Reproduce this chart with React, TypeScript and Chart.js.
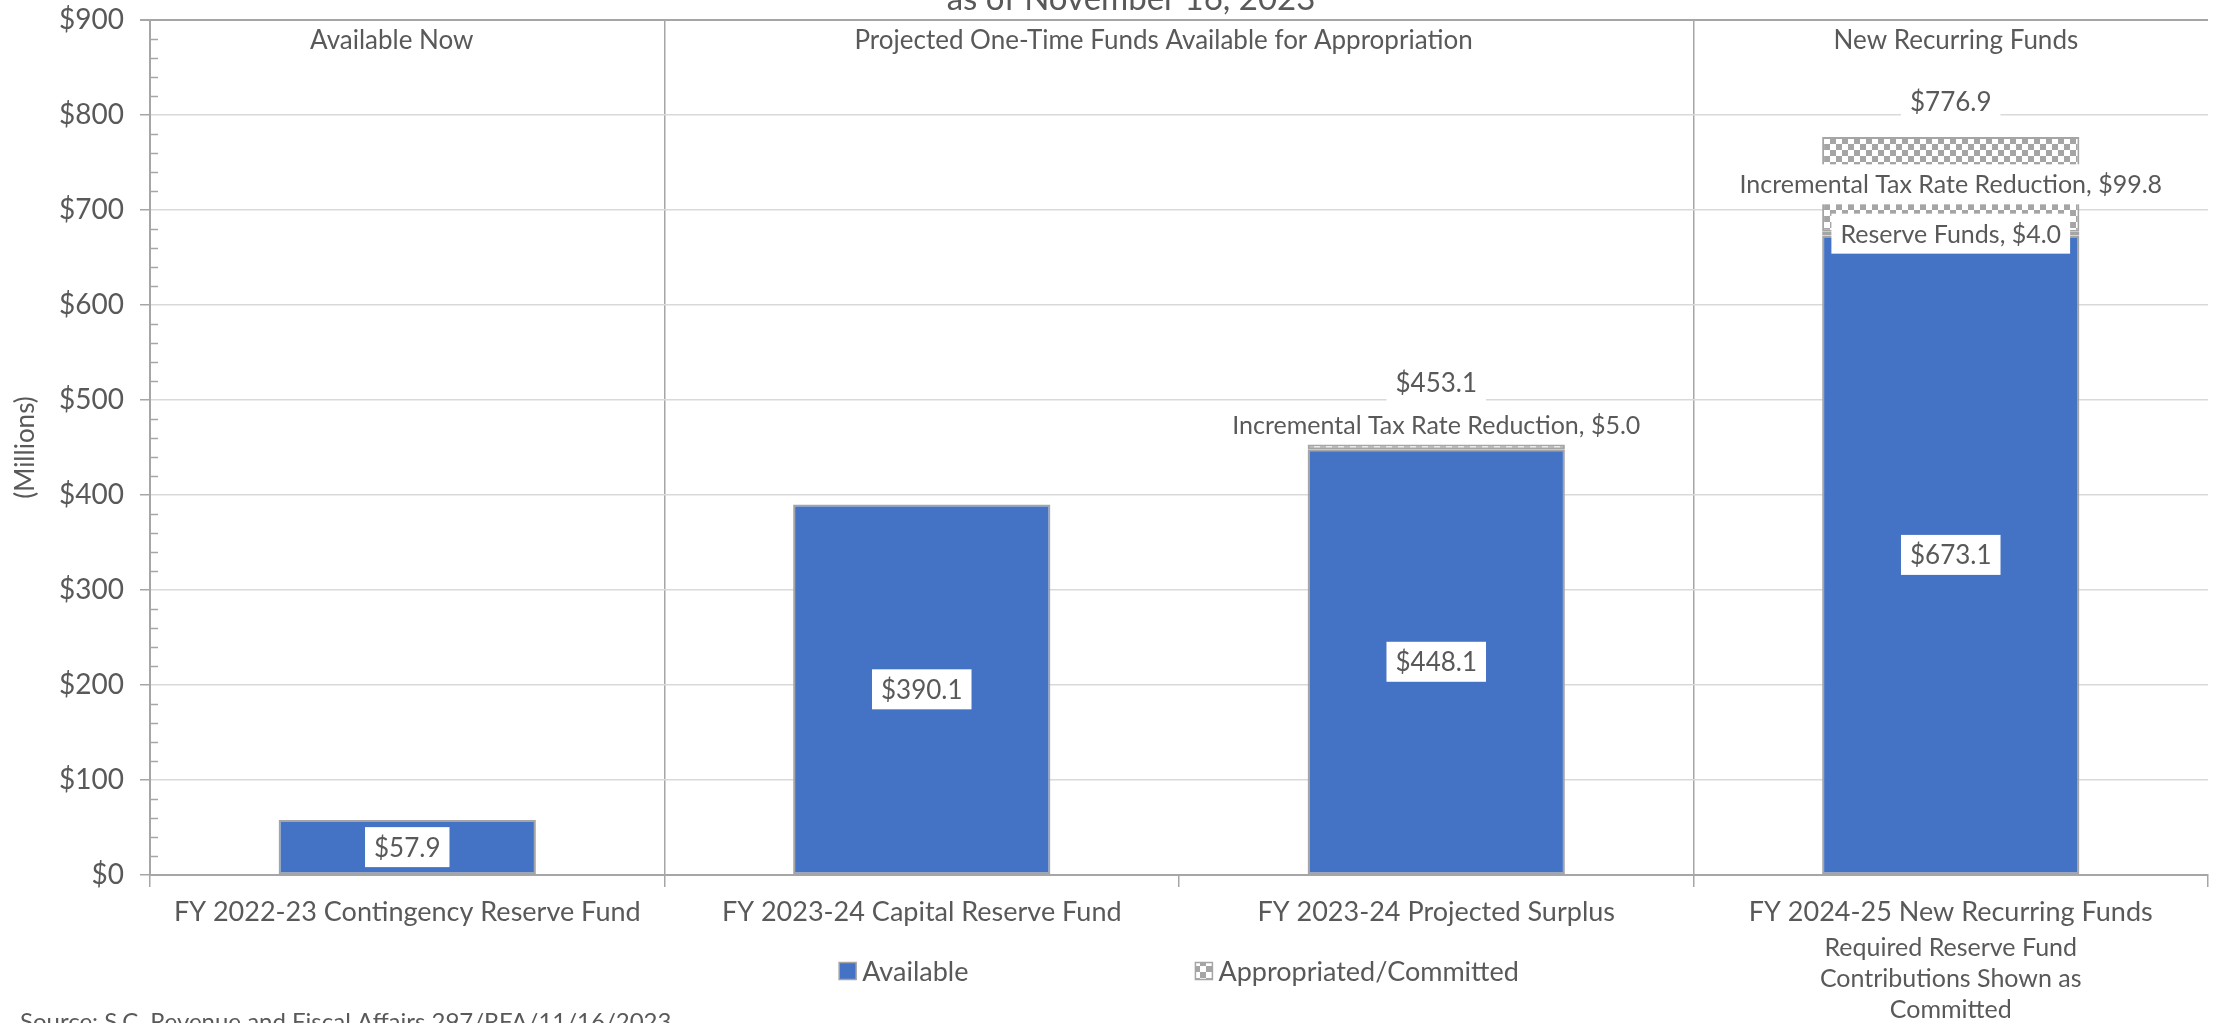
import React, { useEffect, useRef } from 'react';
import { Chart, registerables } from 'chart.js';

Chart.register(...registerables);

// ---------------- data ----------------
const categories = [
  'FY 2022-23 Contingency Reserve Fund',
  'FY 2023-24 Capital Reserve Fund',
  'FY 2023-24 Projected Surplus',
  'FY 2024-25 New Recurring Funds',
];
const availableValues = [57.9, 390.1, 448.1, 673.1];
const reserveFundValues: (number | null)[] = [null, null, null, 4.0];
const taxReductionValues: (number | null)[] = [null, null, 5.0, 99.8];
const seriesNames = ['Available', 'Reserve Funds', 'Incremental Tax Rate Reduction'];
const legendNames = ['Available', 'Appropriated/Committed'];
const yMin = 0;
const yMax = 900;
const yStep = 100;
const yMinorStep = 20;
const groupHeaders = [
  'Available Now',
  'Projected One-Time Funds Available for Appropriation',
  'New Recurring Funds',
];
const noteLines = ['Required Reserve Fund', 'Contributions Shown as', 'Committed'];
const titleText = 'as of November 16, 2023';
const yAxisTitle = '(Millions)';
const sourceText = 'Source: S.C. Revenue and Fiscal Affairs 297/RFA/11/16/2023';

// ---------------- style / layout ----------------
const W = 2213;
const H = 1023;
const FAMILY = 'Lato, "Noto Sans", sans-serif';
const TEXT = '#595959';
const BLUE = '#4472C4';
const EDGE = '#A5A5A5';
const AXIS = '#A6A6A6';
const GRID = '#D9D9D9';
const HEADER_POS = [-0.03, 1.47, 3.01]; // in category units
const fmt = (v: number) => '$' + v.toFixed(1);

function makePattern(ctx: CanvasRenderingContext2D) {
  const s = 6;
  const c = document.createElement('canvas');
  c.width = s * 2;
  c.height = s * 2;
  const g = c.getContext('2d')!;
  g.fillStyle = '#ffffff';
  g.fillRect(0, 0, s * 2, s * 2);
  g.fillStyle = '#A5A5A5';
  g.fillRect(0, 0, s, s);
  g.fillRect(s, s, s, s);
  return ctx.createPattern(c, 'repeat')!;
}

function label(
  ctx: CanvasRenderingContext2D,
  text: string,
  cx: number,
  cy: number,
  size: number,
  boxed: boolean
) {
  ctx.font = `${size}px ${FAMILY}`;
  const w = ctx.measureText(text).width;
  if (boxed) {
    ctx.fillStyle = '#ffffff';
    ctx.fillRect(cx - w / 2 - 9, cy - 20, w + 18, 40);
  }
  ctx.fillStyle = TEXT;
  ctx.textAlign = 'center';
  ctx.textBaseline = 'middle';
  ctx.fillText(text, cx, cy + 1);
}

export default function App() {
  const ref = useRef<HTMLCanvasElement>(null);

  useEffect(() => {
    const canvas = ref.current!;
    const ctx0 = canvas.getContext('2d')!;
    const pattern = makePattern(ctx0);
    const series = [availableValues, reserveFundValues, taxReductionValues];

    const annotate = {
      id: 'annotate',
      afterDraw(chart: any) {
        const ctx: CanvasRenderingContext2D = chart.ctx;
        const ca = chart.chartArea;
        const xs = chart.scales.x;
        const ys = chart.scales.y;
        ctx.save();

        // top border of plot
        ctx.strokeStyle = AXIS;
        ctx.lineWidth = 2;
        ctx.beginPath();
        ctx.moveTo(ca.left - 10, ca.top);
        ctx.lineTo(ca.right, ca.top);
        ctx.stroke();

        // minor ticks on y axis (inside)
        ctx.lineWidth = 1.5;
        for (let v = yMin; v <= yMax; v += yMinorStep) {
          if (v % yStep === 0) continue;
          const py = Math.round(ys.getPixelForValue(v)) + 0.5;
          ctx.beginPath();
          ctx.moveTo(ca.left, py);
          ctx.lineTo(ca.left + 8, py);
          ctx.stroke();
        }

        // data labels
        const metas = series.map((_, i) => chart.getDatasetMeta(i));
        for (let j = 0; j < categories.length; j++) {
          let above = 0;
          let topPx = Infinity;
          let total = 0;
          let committed = false;
          let bx = 0;
          for (let i = 0; i < series.length; i++) {
            const v = series[i][j];
            if (v == null) continue;
            total += v;
            const bar = metas[i].data[j];
            const p = bar.getProps(['x', 'y', 'base'], true);
            bx = p.x;
            topPx = Math.min(topPx, p.y);
            const isTop = series.slice(i + 1).every((s) => s[j] == null);
            const h = Math.abs(p.base - p.y);
            if (i === 0) {
              label(ctx, fmt(v), p.x, (p.y + p.base) / 2, 26, true);
            } else {
              committed = true;
              const t = `${seriesNames[i]}, ${fmt(v)}`;
              if (isTop && h < 20) {
                label(ctx, t, p.x, p.y - 20, 25, false);
                above++;
              } else {
                label(ctx, t, p.x, (p.y + p.base) / 2, 25, true);
              }
            }
          }
          if (committed) {
            label(ctx, fmt(total), bx, topPx - 35 - above * 27, 26, true);
          }
        }

        // group headers
        const x0 = xs.getPixelForValue(0);
        const cw = xs.getPixelForValue(1) - x0;
        ctx.fillStyle = TEXT;
        ctx.textAlign = 'center';
        ctx.textBaseline = 'middle';
        ctx.font = `26px ${FAMILY}`;
        groupHeaders.forEach((t, k) => {
          ctx.fillText(t, x0 + HEADER_POS[k] * cw, ca.top + 21);
        });

        // note under last category
        const lastX = xs.getPixelForValue(categories.length - 1);
        ctx.font = `25px ${FAMILY}`;
        noteLines.forEach((t, k) => {
          ctx.fillText(t, lastX, ca.bottom + 73 + k * 31);
        });

        // legend
        ctx.font = `27px ${FAMILY}`;
        const box = 17;
        const gap = 6;
        const itemGap = 227;
        const widths = legendNames.map((t) => ctx.measureText(t).width);
        const totalW = widths.reduce((a, w) => a + box + gap + w, 0) + itemGap * (legendNames.length - 1);
        let lx = (ca.left + ca.right) / 2 - totalW / 2;
        const ly = ca.bottom + 96;
        legendNames.forEach((t, k) => {
          ctx.fillStyle = k === 0 ? BLUE : pattern;
          ctx.fillRect(lx, ly - box / 2, box, box);
          ctx.strokeStyle = EDGE;
          ctx.lineWidth = 1.5;
          ctx.strokeRect(lx, ly - box / 2, box, box);
          ctx.fillStyle = TEXT;
          ctx.textAlign = 'left';
          ctx.fillText(t, lx + box + gap, ly + 1);
          lx += box + gap + widths[k] + itemGap;
        });

        // title (partly off-canvas) and source
        ctx.textAlign = 'center';
        ctx.textBaseline = 'alphabetic';
        ctx.font = `33px ${FAMILY}`;
        ctx.fillText(titleText, 1131, 10);
        ctx.textAlign = 'left';
        ctx.font = `24px ${FAMILY}`;
        ctx.fillText(sourceText, 20, 1030);

        ctx.restore();
      },
    };

    const commonBar = {
      borderColor: EDGE,
      borderWidth: 2,
      borderSkipped: false as const,
    };

    const chart = new Chart(canvas, {
      type: 'bar',
      data: {
        labels: categories,
        datasets: [
          { label: seriesNames[0], data: availableValues, backgroundColor: BLUE, ...commonBar },
          { label: seriesNames[1], data: reserveFundValues as any, backgroundColor: pattern as any, ...commonBar },
          { label: seriesNames[2], data: taxReductionValues as any, backgroundColor: pattern as any, ...commonBar },
        ],
      },
      options: {
        responsive: false,
        animation: false,
        layout: { padding: { top: 20, left: 8, right: 5, bottom: 92 } },
        datasets: { bar: { categoryPercentage: 1, barPercentage: 0.5 } },
        plugins: {
          legend: { display: false },
          title: { display: false },
          tooltip: { enabled: false },
        },
        scales: {
          x: {
            stacked: true,
            grid: {
              offset: true,
              color: (c: any) => (c.index === 1 || c.index === 3 || c.index === 4 ? AXIS : 'rgba(0,0,0,0)'),
              tickColor: AXIS,
              lineWidth: 1.5,
              tickLength: 12,
            },
            border: { color: AXIS, width: 2 },
            ticks: {
              color: TEXT,
              font: { family: FAMILY, size: 27 },
              padding: 9,
              maxRotation: 0,
              autoSkip: false,
            },
            afterFit: (s: any) => {
              s.height = 56;
            },
          },
          y: {
            stacked: true,
            min: yMin,
            max: yMax,
            ticks: {
              stepSize: yStep,
              callback: (v: any) => '$' + v,
              color: TEXT,
              font: { family: FAMILY, size: 28 },
              padding: 16,
            },
            grid: { color: GRID, lineWidth: 1.5, tickLength: 10, tickColor: AXIS },
            border: { color: AXIS, width: 2 },
            title: {
              display: true,
              text: yAxisTitle,
              color: TEXT,
              font: { family: FAMILY, size: 26 },
              padding: { top: 2, bottom: 0 },
            },
            afterFit: (s: any) => {
              s.width = 142;
              s.paddingTop = 0;
              s.paddingBottom = 0;
            },
          },
        },
      },
      plugins: [annotate],
    });

    return () => chart.destroy();
  }, []);

  return (
    <div style={{ position: 'fixed', left: 0, top: 0, width: W, height: H, background: '#ffffff' }}>
      <canvas ref={ref} width={W} height={H} style={{ display: 'block', width: W, height: H }} />
    </div>
  );
}
